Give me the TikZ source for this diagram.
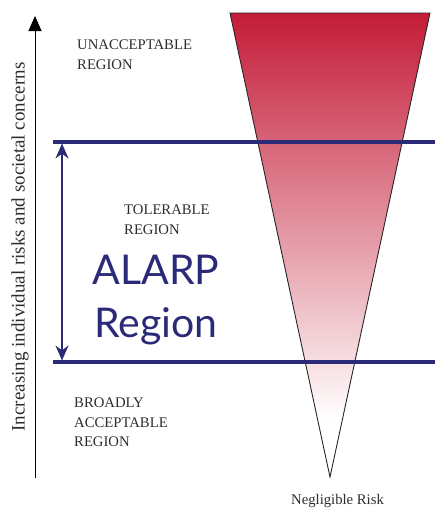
\documentclass[tikz,border=0pt]{standalone}
\usepackage{fontspec}
\setmainfont{Liberation Serif}
\newfontfamily\alarpfont{Lato}
\usetikzlibrary{arrows.meta}
\definecolor{alarpred}{RGB}{196,28,56}
\definecolor{alarpblue}{RGB}{42,42,120}
\definecolor{labelgray}{RGB}{45,45,45}
\begin{document}
\begin{tikzpicture}[x=1pt,y=-1pt,
  regiontext/.style={anchor=north west,inner sep=0pt,align=left,text=labelgray,font=\fontsize{14.7}{19.5}\selectfont},
  boundary/.style={draw=alarpblue,line width=3.2pt}]
\useasboundingbox (0,0) rectangle (435,509);
% risk triangle
\coordinate (tl) at (230,13);
\coordinate (tr) at (430,13);
\coordinate (apex) at (330,477);
\begin{scope}
\clip (tl)--(tr)--(apex)--cycle;
\shade[top color=alarpred,bottom color=white] (tl) rectangle (430,420);
\end{scope}
\draw[line width=0.9pt,black!85] (tl)--(tr)--(apex)--cycle;
% region boundaries
\coordinate (up0) at (53,142);
\coordinate (up1) at (435,142);
\coordinate (lo0) at (53,362);
\coordinate (lo1) at (435,362);
\draw[boundary] (up0)--(up1);
\draw[boundary] (lo0)--(lo1);
\coordinate (tol0) at (62,143.5);
\coordinate (tol1) at (62,360.5);
\draw[alarpblue,line width=1.6pt,{Stealth[length=15pt,width=13pt]}-{Stealth[length=15pt,width=13pt]}] (tol0)--(tol1);
% axis
\coordinate (ax0) at (35,478);
\coordinate (ax1) at (35,16);
\draw[line width=0.9pt,-{Triangle[length=15pt,width=13pt]}] (ax0)--(ax1);
\node[rotate=90,inner sep=0pt,text=labelgray,font=\fontsize{19}{22}\selectfont] (axislabel) at (20,247) {Increasing individual risks and societal concerns};
% labels
\node[regiontext] (unacc) at (77,40) {UNACCEPTABLE\\REGION};
\node[regiontext] (toler) at (124,205) {TOLERABLE\\REGION};
\node[regiontext] (broad) at (74,398) {BROADLY\\ACCEPTABLE\\REGION};
\node[anchor=north,inner sep=0pt,align=center,text=alarpblue,font=\alarpfont\fontsize{41}{53}\selectfont] (alarp) at (156,255) {ALARP\\Region};
\node[anchor=base west,inner sep=0pt,text=labelgray,font=\fontsize{14.7}{17}\selectfont] (negl) at (291,504) {Negligible Risk};
\end{tikzpicture}
\end{document}
